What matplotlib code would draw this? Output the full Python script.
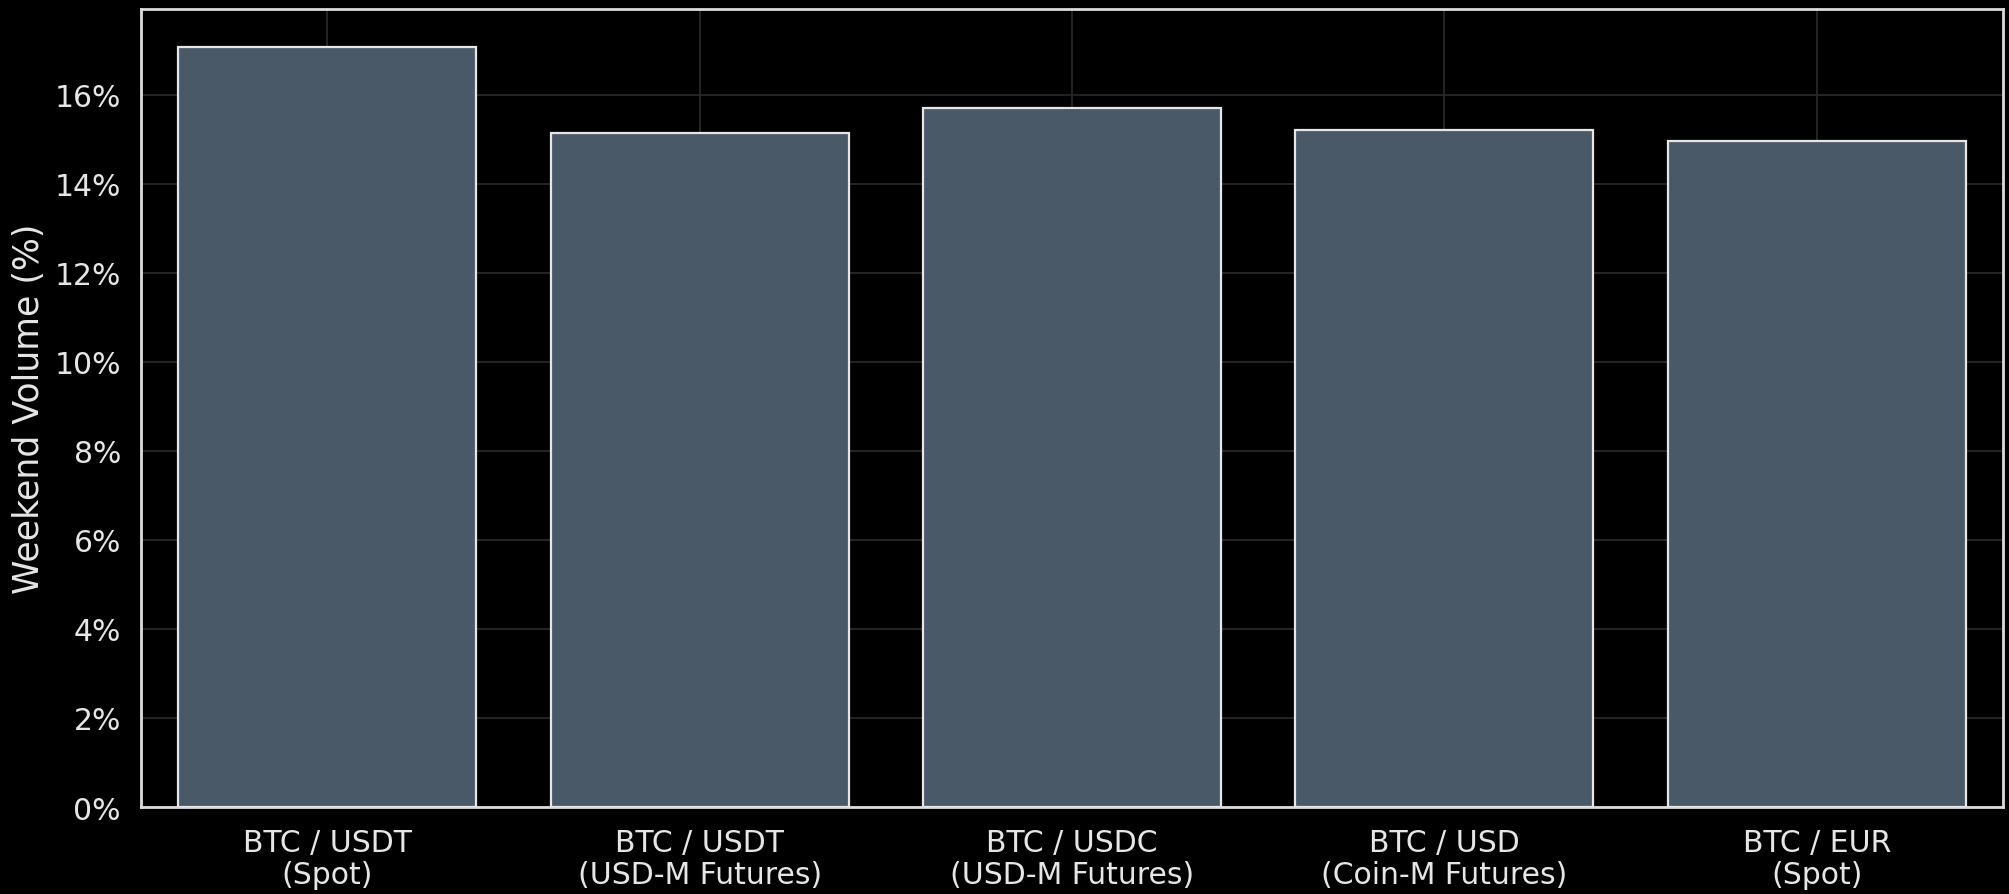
import numpy as np
import matplotlib.pyplot as plt
from matplotlib.ticker import FuncFormatter

# pairs and their weekend share of volume (%)
pairs = ["BTC / USDT\n(Spot)", "BTC / USDT\n(USD-M Futures)", "BTC / USDC\n(USD-M Futures)",
         "BTC / USD\n(Coin-M Futures)", "BTC / EUR\n(Spot)"]
weekend_pct = [17.07, 15.14, 15.69, 15.20, 14.97]

fig = plt.figure(figsize=(20.09, 8.95), dpi=100, facecolor="black")
ax = fig.add_axes([0.0702, 0.0972, 0.9268, 0.8916])
ax.set_facecolor("black")

x = np.arange(len(pairs))
ax.bar(x, weekend_pct, width=0.8, color="#4a5968", edgecolor="#e6e6e6", linewidth=1.6, zorder=3)

ax.set_xlim(-0.5, len(pairs) - 0.5)
ax.set_ylim(0, max(weekend_pct) * 1.05)
ax.set_yticks(np.arange(0, 17, 2))
ax.yaxis.set_major_formatter(FuncFormatter(lambda v, p: f"{v:.0f}%"))
ax.set_xticks(x)
ax.set_xticklabels(pairs, linespacing=1.15)

ax.grid(True, color="#2b2b2b", linewidth=1.2, zorder=0)
ax.tick_params(axis="both", length=0, colors="#e6e6e6", labelsize=21.5)
ax.tick_params(axis="y", pad=14.5)
ax.tick_params(axis="x", pad=15)
for s in ax.spines.values():
    s.set_color("#dcdcdc")
    s.set_linewidth(2)

ax.set_ylabel("Weekend Volume (%)", fontsize=25, color="#e6e6e6", labelpad=6)

fig.savefig("out.png", dpi=100, facecolor="black")
